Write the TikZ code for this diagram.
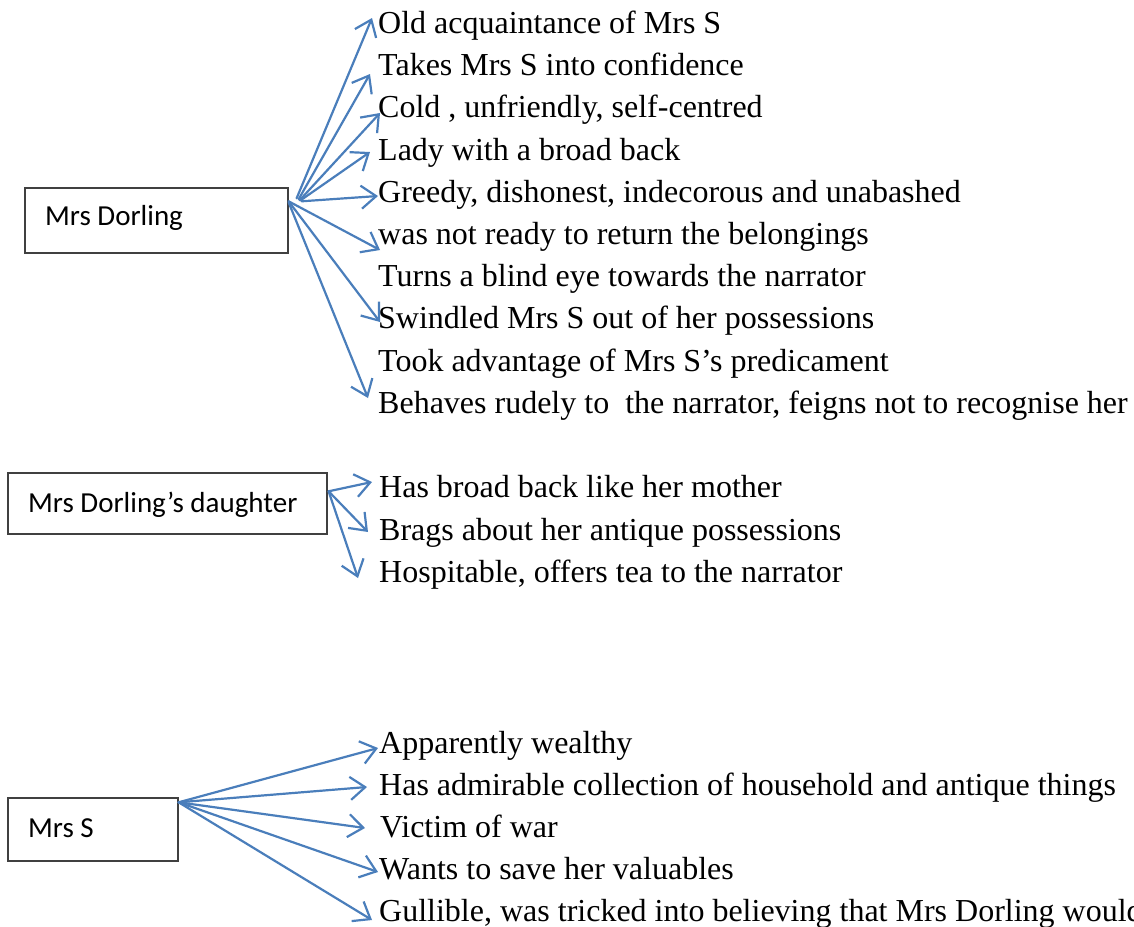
\documentclass[tikz,border=0pt]{standalone}
\usepackage{fontspec}
\setmainfont{Liberation Serif}
\newfontfamily\boxfont{Carlito}
\usetikzlibrary{arrows.meta}
\definecolor{arrowblue}{RGB}{74,126,187}
\definecolor{boxgray}{RGB}{64,64,64}
\tikzset{
  lbl/.style={anchor=base west, inner sep=0pt, font=\fontsize{32}{37}\selectfont},
  charbox/.style={draw=boxgray, line width=1.6pt, anchor=north west, inner sep=0pt},
  boxtxt/.style={anchor=base west, inner sep=0pt, font=\boxfont\fontsize{29}{34}\selectfont},
  conn/.style={draw=arrowblue, line width=2.2pt, line cap=round, -{Straight Barb[length=15pt,width=23pt,line width=2.2pt]}}
}
\begin{document}
\begin{tikzpicture}[x=1pt,y=-1pt]
\clip (0,0) rectangle (1134,926);
\useasboundingbox (0,0) rectangle (1134,926);
% boxes
\node[charbox, minimum width=263pt, minimum height=65pt] (dor) at (24,187) {};
\node[boxtxt] (dort) at (45,225) {Mrs Dorling};
\node[charbox, minimum width=319pt, minimum height=61pt] (dau) at (7,472) {};
\node[boxtxt] (daut) at (28,512) {Mrs Dorling’s daughter};
\node[charbox, minimum width=170pt, minimum height=63pt] (ms) at (7,797) {};
\node[boxtxt] (mst) at (28,837) {Mrs S};
% Mrs Dorling texts
\node[lbl] (d1) at (378,33) {Old acquaintance of Mrs S};
\node[lbl] (d2) at (378,75) {Takes Mrs S into confidence};
\node[lbl] (d3) at (378,117) {Cold , unfriendly, self-centred};
\node[lbl] (d4) at (378,160) {Lady with a broad back};
\node[lbl] (d5) at (378,202) {Greedy, dishonest, indecorous and unabashed};
\node[lbl] (d6) at (378,244) {was not ready to return the belongings};
\node[lbl] (d7) at (378,286) {Turns a blind eye towards the narrator};
\node[lbl] (d8) at (378,328) {Swindled Mrs S out of her possessions};
\node[lbl] (d9) at (378,371) {Took advantage of Mrs S’s predicament};
\node[lbl] (d10) at (378,413) {Behaves rudely to\ \ the narrator, feigns not to recognise her};
% daughter texts
\node[lbl] (g1) at (379,497) {Has broad back like her mother};
\node[lbl] (g2) at (379,540) {Brags about her antique possessions};
\node[lbl] (g3) at (379,582) {Hospitable, offers tea to the narrator};
% Mrs S texts
\node[lbl] (s1) at (379,753) {Apparently wealthy};
\node[lbl] (s2) at (379,795) {Has admirable collection of household and antique things};
\node[lbl] (s3) at (380,837) {Victim of war};
\node[lbl] (s4) at (379,879) {Wants to save her valuables};
\node[lbl] (s5) at (379,921) {Gullible, was tricked into believing that Mrs Dorling would};
% arrow end points
\coordinate (a1) at (372,18);
\coordinate (a2) at (370,74);
\coordinate (a3) at (380,113);
\coordinate (a4) at (370,152);
\coordinate (a5) at (378,196);
\coordinate (a7) at (380,250);
\coordinate (a8) at (380,322);
\coordinate (a10) at (368,398);
\coordinate (b1) at (372,482);
\coordinate (b2) at (368,532);
\coordinate (b3) at (358,578);
\coordinate (c1) at (378,748);
\coordinate (c2) at (367,787);
\coordinate (c3) at (365,828);
\coordinate (c4) at (378,872);
\coordinate (c5) at (372,920);
% connectors
\draw[conn] ([shift={(8,-22)}]dor.east) -- (a1);
\draw[conn] ([shift={(10,-21)}]dor.east) -- (a2);
\draw[conn] ([shift={(11,-20)}]dor.east) -- (a3);
\draw[conn] ([shift={(12,-20)}]dor.east) -- (a4);
\draw[conn] ([shift={(13,-19)}]dor.east) -- (a5);
\draw[conn] ([shift={(0,-19)}]dor.east) -- (a7);
\draw[conn] ([shift={(0,-19)}]dor.east) -- (a8);
\draw[conn] ([shift={(0,-18)}]dor.east) -- (a10);
\draw[conn] ([shift={(1,-12)}]dau.east) -- (b1);
\draw[conn] ([shift={(1,-12)}]dau.east) -- (b2);
\draw[conn] ([shift={(1,-12)}]dau.east) -- (b3);
\draw[conn] ([shift={(0,-27)}]ms.east) -- (c1);
\draw[conn] ([shift={(0,-27)}]ms.east) -- (c2);
\draw[conn] ([shift={(0,-27)}]ms.east) -- (c3);
\draw[conn] ([shift={(0,-27)}]ms.east) -- (c4);
\draw[conn] ([shift={(0,-27)}]ms.east) -- (c5);
\end{tikzpicture}
\end{document}
